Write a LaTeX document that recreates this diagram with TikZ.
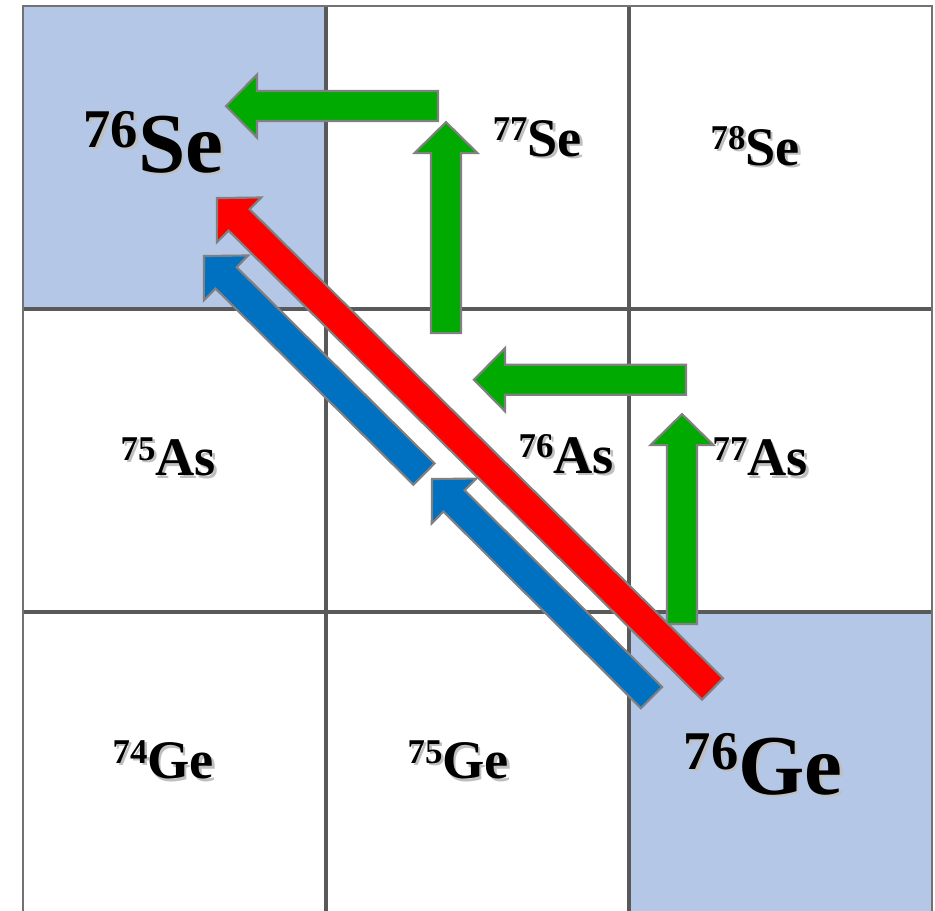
\documentclass[tikz,border=0pt]{standalone}
\usepackage{fontspec}
\setmainfont{Liberation Serif}
\usepackage{xcolor}
\usepackage{tikz}
\usetikzlibrary{calc}
\definecolor{AzulCelda}{HTML}{B4C7E7}
\definecolor{VerdeBeta}{RGB}{0,170,0}
\definecolor{RojoDoble}{RGB}{255,0,0}
\definecolor{AzulDoble}{RGB}{0,112,192}
\definecolor{GrisBorde}{RGB}{128,128,128}
\definecolor{GrisRejilla}{RGB}{89,89,89}
% numero masico + simbolo, con sombra suave
\newcommand{\masico}[2]{\raisebox{0.29em}{\scalebox{0.64}{#1}}#2}
\newcommand{\nucleo}[2]{\makebox[0pt][l]{\hspace{0.7pt}\raisebox{-0.7pt}{\color{black!25}\masico{#1}{#2}}}\masico{#1}{#2}}
% flecha de bloque: color, cola, punta
\newcommand{\flechabloque}[3]{%
  \coordinate (base) at ($(#3)!0.307cm!(#2)$);
  \draw[fill=#1,draw=GrisBorde,line width=0.6pt,line join=miter]
    ($(#2)!0.1485cm!90:(#3)$) -- ($(base)!0.1485cm!-90:(#2)$)
    -- ($(base)!0.312cm!-90:(#2)$) -- (#3) -- ($(base)!0.312cm!90:(#2)$)
    -- ($(base)!0.1485cm!90:(#2)$) -- ($(#2)!0.1485cm!-90:(#3)$) -- cycle;}

\begin{document}
\begin{tikzpicture}[
    rejilla/.style={GrisRejilla,line width=1.1pt},
    borde/.style={GrisRejilla!85,line width=0.65pt},
    nucl/.style={anchor=base west,inner sep=0pt,font=\bfseries\fontsize{15.3}{18}\selectfont},
    nuclgrande/.style={nucl,font=\bfseries\fontsize{24}{28}\selectfont}]
  \useasboundingbox (-0.228,0.04) rectangle (9.03,9.06);
  % celdas de 76Se y 76Ge
  \fill[AzulCelda] (0,6) rectangle (3,9);
  \fill[AzulCelda] (6,0) rectangle (9,3);
  % rejilla
  \foreach \x in {3,6} \draw[rejilla] (\x,0) -- (\x,9);
  \foreach \y in {3,6} \draw[rejilla] (0,\y) -- (9,\y);
  \draw[borde] (0,0) -- (0,9) -- (9,9) -- (9,0);
  % extremos de las flechas
  \coordinate (vA-cola) at (4.109,8.010);  \coordinate (vA-punta) at (2.010,8.010);
  \coordinate (vB-cola) at (4.188,5.762);  \coordinate (vB-punta) at (4.188,7.851);
  \coordinate (vC-cola) at (6.564,5.300);  \coordinate (vC-punta) at (4.465,5.300);
  \coordinate (vD-cola) at (6.525,2.881);  \coordinate (vD-punta) at (6.525,4.960);
  \coordinate (r-cola) at (6.827,2.238);   \coordinate (r-punta) at (1.921,7.099);
  \coordinate (aA-cola) at (3.970,4.366);  \coordinate (aA-punta) at (1.792,6.525);
  \coordinate (aB-cola) at (6.223,2.153);  \coordinate (aB-punta) at (4.050,4.317);
  % desintegraciones beta simples
  \flechabloque{VerdeBeta}{vA-cola}{vA-punta}
  \flechabloque{VerdeBeta}{vB-cola}{vB-punta}
  \flechabloque{VerdeBeta}{vC-cola}{vC-punta}
  \flechabloque{VerdeBeta}{vD-cola}{vD-punta}
  % doble beta
  \flechabloque{RojoDoble}{r-cola}{r-punta}
  \flechabloque{AzulDoble}{aA-cola}{aA-punta}
  \flechabloque{AzulDoble}{aB-cola}{aB-punta}
  % nucleos
  \node[nuclgrande] (se76) at (0.594,7.356) {\nucleo{76}{Se}};
  \node[nucl] (se77) at (4.644,7.515) {\nucleo{77}{Se}};
  \node[nucl] (se78) at (6.802,7.426) {\nucleo{78}{Se}};
  \node[nucl] (as75) at (0.960,4.347) {\nucleo{75}{As}};
  \node[nucl] (as76) at (4.901,4.376) {\nucleo{76}{As}};
  \node[nucl] (as77) at (6.822,4.347) {\nucleo{77}{As}};
  \node[nucl] (ge74) at (0.881,1.347) {\nucleo{74}{Ge}};
  \node[nucl] (ge75) at (3.802,1.347) {\nucleo{75}{Ge}};
  \node[nuclgrande] (ge76) at (6.535,1.198) {\nucleo{76}{Ge}};
\end{tikzpicture}
\end{document}
